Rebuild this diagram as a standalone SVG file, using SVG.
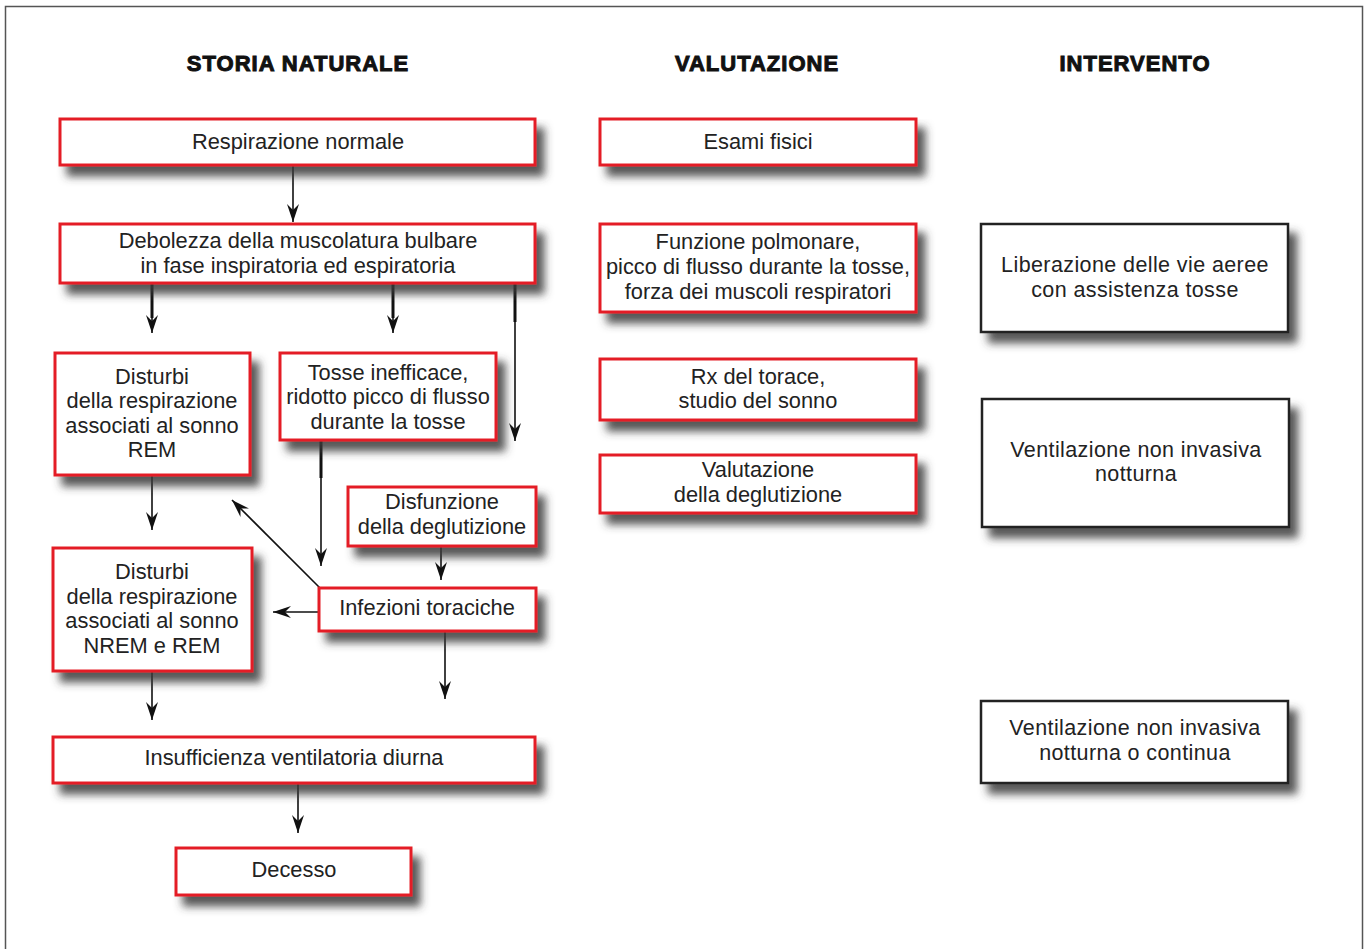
<svg xmlns="http://www.w3.org/2000/svg" width="1369" height="949" viewBox="0 0 1369 949">
<defs>
<filter id="sh" x="-10%" y="-20%" width="130%" height="170%">
<feGaussianBlur in="SourceAlpha" stdDeviation="4"/>
<feOffset dx="8" dy="10" result="b"/>
<feFlood flood-color="#3a3a3a" flood-opacity="0.85"/>
<feComposite in2="b" operator="in"/>
<feMerge><feMergeNode/><feMergeNode in="SourceGraphic"/></feMerge>
</filter>
<marker id="ah" viewBox="-18 -7 19 14" refX="0" refY="0" markerWidth="19" markerHeight="14" markerUnits="userSpaceOnUse" orient="auto">
<path d="M0,0 L-18,-6 L-12,0 L-18,6 Z" fill="#111"/>
</marker>
</defs>
<style>
.r{fill:#fff;stroke:#e41e26;stroke-width:3;filter:url(#sh)}
.k{fill:#fff;stroke:#222;stroke-width:2.5;filter:url(#sh)}
.t{font-family:"Liberation Sans",Arial,sans-serif;font-size:21.8px;fill:#222;text-anchor:middle}
.t2{font-family:"Liberation Sans",Arial,sans-serif;font-size:21.5px;fill:#222;text-anchor:middle;letter-spacing:0.4px}
.h{font-family:"Liberation Sans",Arial,sans-serif;font-size:22px;font-weight:bold;fill:#111;stroke:#111;stroke-width:1;text-anchor:middle;letter-spacing:1px}
.c{fill:none;stroke:#111;stroke-width:1.6}
.ck{fill:none;stroke:#111;stroke-width:3}
</style>
<rect x="5.5" y="6.5" width="1357" height="970" fill="#fff" stroke="#555" stroke-width="1.5"/>
<g id="headers">
<text class="h" x="298" y="71">STORIA NATURALE</text>
<text class="h" x="757" y="71">VALUTAZIONE</text>
<text class="h" x="1135" y="71">INTERVENTO</text>
</g>
<g id="connectors">
<path class="c" d="M293,165 V222" marker-end="url(#ah)"/>
<path class="ck" d="M152,283 V318"/>
<path class="c" d="M152,316 V333" marker-end="url(#ah)"/>
<path class="ck" d="M393,283 V318"/>
<path class="c" d="M393,316 V333" marker-end="url(#ah)"/>
<path class="ck" d="M515,283 V322"/>
<path class="c" d="M515,320 V441" marker-end="url(#ah)"/>
<path class="ck" d="M321,440 V478"/>
<path class="c" d="M321,476 V566" marker-end="url(#ah)"/>
<path class="c" d="M152,475 V530" marker-end="url(#ah)"/>
<path class="c" d="M441,546 V580" marker-end="url(#ah)"/>
<path class="c" d="M320,588 L232,500" marker-end="url(#ah)"/>
<path class="c" d="M319,612 H273" marker-end="url(#ah)"/>
<path class="c" d="M445,631 V699" marker-end="url(#ah)"/>
<path class="c" d="M152,671 V720" marker-end="url(#ah)"/>
<path class="c" d="M298,783 V833" marker-end="url(#ah)"/>
</g>
<g id="n-respirazione"><rect class="r" x="60" y="119" width="475" height="46"/><text class="t" x="298" y="149">Respirazione normale</text></g>
<g id="n-debolezza"><rect class="r" x="60" y="224" width="475" height="59"/><text class="t" x="298" y="248">Debolezza della muscolatura bulbare</text><text class="t" x="298" y="273">in fase inspiratoria ed espiratoria</text></g>
<g id="n-disturbi-rem"><rect class="r" x="55" y="353" width="195" height="122"/><text class="t" x="152" y="384">Disturbi</text><text class="t" x="152" y="408">della respirazione</text><text class="t" x="152" y="433">associati al sonno</text><text class="t" x="152" y="457">REM</text></g>
<g id="n-tosse"><rect class="r" x="280" y="353" width="216" height="87"/><text class="t" x="388" y="380">Tosse inefficace,</text><text class="t" x="388" y="404">ridotto picco di flusso</text><text class="t" x="388" y="429">durante la tosse</text></g>
<g id="n-disfunzione"><rect class="r" x="348" y="487" width="188" height="59"/><text class="t" x="442" y="509">Disfunzione</text><text class="t" x="442" y="534">della deglutizione</text></g>
<g id="n-infezioni"><rect class="r" x="319" y="588" width="217" height="43"/><text class="t" x="427" y="615">Infezioni toraciche</text></g>
<g id="n-disturbi-nrem"><rect class="r" x="53" y="548" width="199" height="123"/><text class="t" x="152" y="579">Disturbi</text><text class="t" x="152" y="604">della respirazione</text><text class="t" x="152" y="628">associati al sonno</text><text class="t" x="152" y="653">NREM e REM</text></g>
<g id="n-insufficienza"><rect class="r" x="53" y="737" width="482" height="46"/><text class="t" x="294" y="765">Insufficienza ventilatoria diurna</text></g>
<g id="n-decesso"><rect class="r" x="176" y="848" width="235" height="47"/><text class="t" x="294" y="877">Decesso</text></g>
<g id="n-esami"><rect class="r" x="600" y="119" width="316" height="46"/><text class="t" x="758" y="149">Esami fisici</text></g>
<g id="n-funzione"><rect class="r" x="600" y="224" width="316" height="88"/><text class="t" x="758" y="249">Funzione polmonare,</text><text class="t" x="758" y="274">picco di flusso durante la tosse,</text><text class="t" x="758" y="299">forza dei muscoli respiratori</text></g>
<g id="n-rx"><rect class="r" x="600" y="359" width="316" height="61"/><text class="t" x="758" y="384">Rx del torace,</text><text class="t" x="758" y="408">studio del sonno</text></g>
<g id="n-valutazione"><rect class="r" x="600" y="455" width="316" height="58"/><text class="t" x="758" y="477">Valutazione</text><text class="t" x="758" y="502">della deglutizione</text></g>
<g id="n-liberazione"><rect class="k" x="981" y="224" width="307" height="108"/><text class="t2" x="1135" y="272">Liberazione delle vie aeree</text><text class="t2" x="1135" y="297">con assistenza tosse</text></g>
<g id="n-vni-notturna"><rect class="k" x="982" y="399" width="307" height="128"/><text class="t2" x="1136" y="457">Ventilazione non invasiva</text><text class="t2" x="1136" y="481">notturna</text></g>
<g id="n-vni-continua"><rect class="k" x="981" y="701" width="307" height="82"/><text class="t2" x="1135" y="735">Ventilazione non invasiva</text><text class="t2" x="1135" y="760">notturna o continua</text></g>
</svg>
